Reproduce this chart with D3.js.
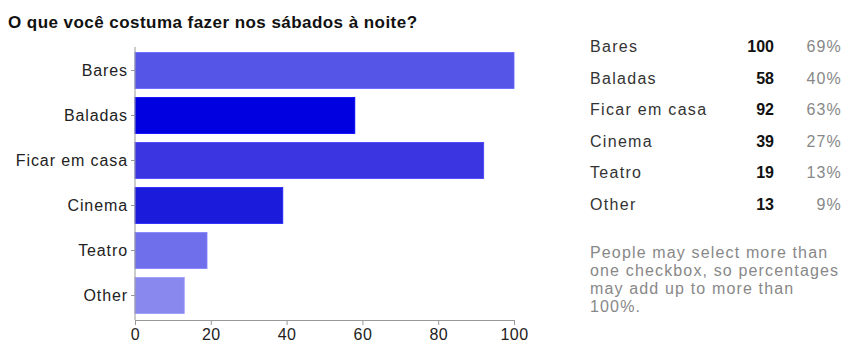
<!DOCTYPE html>
<html>
<head>
<meta charset="utf-8">
<script src="https://cdn.jsdelivr.net/npm/d3@7"></script>
<style>
  html, body { margin: 0; padding: 0; background: #fff; }
  svg { display: block; }
  text { font-family: "Liberation Sans", Arial, sans-serif; }
</style>
</head>
<body>
<svg id="chart" width="844" height="345"></svg>
<script>
// Survey: what people usually do on Saturday nights
const title = "O que você costuma fazer nos sábados à noite?";
const categories = ["Bares", "Baladas", "Ficar em casa", "Cinema", "Teatro", "Other"];
const counts = [100, 58, 92, 39, 19, 13];
const percents = ["69%", "40%", "63%", "27%", "13%", "9%"];
const barColors = ["#5555e7", "#0000e0", "#3a34e1", "#1b1bdc", "#6f6feb", "#8888ef"];
const xTicks = [0, 20, 40, 60, 80, 100];
const noteLines = [
  "People may select more than",
  "one checkbox, so percentages",
  "may add up to more than",
  "100%."
];

const svg = d3.select("#chart");

// Title
svg.append("text")
  .attr("x", 8).attr("y", 28)
  .attr("font-size", 17).attr("font-weight", "bold")
  .attr("letter-spacing", 0.45)
  .attr("fill", "#111")
  .text(title);

// Scales
const x = d3.scaleLinear().domain([0, 100]).range([135, 514]);
const y = d3.scaleBand().domain(categories).range([48, 318])
  .paddingInner(0.2).paddingOuter(0.1);

// Bars
svg.append("g").selectAll("rect")
  .data(categories)
  .join("rect")
  .attr("x", x(0))
  .attr("y", d => y(d))
  .attr("width", (d, i) => x(counts[i]) - x(0))
  .attr("height", y.bandwidth())
  .attr("fill", (d, i) => barColors[i])
  .attr("stroke", (d, i) => d3.color(barColors[i]).brighter(0.4))
  .attr("stroke-width", 0.8);

// Category axis
const yAxis = svg.append("g")
  .attr("transform", `translate(${x(0)},0)`)
  .call(d3.axisLeft(y).tickSize(4).tickPadding(3));
yAxis.select(".domain")
  .attr("d", `M0,47V320`)
  .attr("stroke", "#999");
yAxis.selectAll(".tick line").attr("stroke", "#999");
yAxis.selectAll(".tick text")
  .attr("font-size", 16)
  .attr("letter-spacing", 0.9)
  .attr("fill", "#222")
  .attr("font-family", "'Liberation Sans', Arial, sans-serif");

// Value axis
const xAxis = svg.append("g")
  .attr("transform", "translate(0,320)")
  .call(d3.axisBottom(x).tickValues(xTicks).tickSize(5).tickPadding(4).tickSizeOuter(0));
xAxis.select(".domain").attr("stroke", "#999");
xAxis.selectAll(".tick line").attr("stroke", "#999");
xAxis.selectAll(".tick text")
  .attr("font-size", 16)
  .attr("letter-spacing", 0.4)
  .attr("fill", "#222")
  .attr("font-family", "'Liberation Sans', Arial, sans-serif");

// Summary table
const rowY = d3.scalePoint().domain(categories).range([52, 210]);
const table = svg.append("g");
table.selectAll("text.lab")
  .data(categories)
  .join("text")
  .attr("class", "lab")
  .attr("x", 590).attr("y", d => rowY(d))
  .attr("font-size", 16).attr("letter-spacing", 1.3)
  .attr("fill", "#333")
  .text(d => d);
table.selectAll("text.cnt")
  .data(categories)
  .join("text")
  .attr("class", "cnt")
  .attr("x", 774).attr("y", d => rowY(d))
  .attr("text-anchor", "end")
  .attr("font-size", 16).attr("font-weight", "bold")
  .attr("fill", "#111")
  .text((d, i) => counts[i]);
table.selectAll("text.pct")
  .data(categories)
  .join("text")
  .attr("class", "pct")
  .attr("x", 842).attr("y", d => rowY(d))
  .attr("text-anchor", "end")
  .attr("font-size", 16).attr("letter-spacing", 1.2)
  .attr("fill", "#888")
  .text((d, i) => percents[i]);

// Footnote
svg.append("g").selectAll("text")
  .data(noteLines)
  .join("text")
  .attr("x", 590)
  .attr("y", (d, i) => 258 + i * 18)
  .attr("font-size", 16).attr("letter-spacing", 1.15)
  .attr("fill", "#888")
  .text(d => d);
</script>
</body>
</html>
